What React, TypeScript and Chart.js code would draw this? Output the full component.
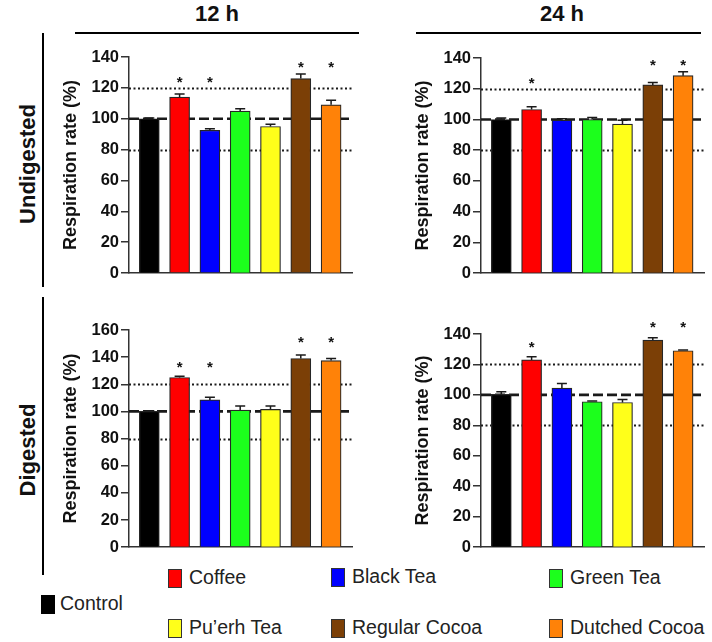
import React, { useEffect, useRef } from "react";
import { Chart, registerables } from "chart.js";
Chart.register(...registerables);

// ---------- data ----------
const categories = ["Control", "Coffee", "Black Tea", "Green Tea", "Pu’erh Tea", "Regular Cocoa", "Dutched Cocoa"];
const colors = ["#000000", "#ff0000", "#0000ff", "#1cff1c", "#ffff1a", "#7b3f06", "#ff8208"];

const undigested12h = [100, 114, 92.5, 105, 95, 126, 109];
const undigested12hErr = [0.5, 2, 1, 1.5, 1.5, 3, 3];
const undigested12hStars = [null, 126, 126, null, null, 136, 136];

const undigested24h = [100, 106.5, 99.5, 100, 97, 122.5, 128.5];
const undigested24hErr = [1, 1.7, 1, 1.2, 2.5, 1.5, 2.5];
const undigested24hStars = [null, 126, null, null, null, 138, 138];

const digested12h = [100, 125, 108.5, 101, 101.5, 139, 137.5];
const digested12hErr = [0.5, 1, 2, 3, 2.5, 2.5, 1.5];
const digested12hStars = [null, 135, 135, null, null, 154, 154];

const digested24h = [100.3, 123, 104.5, 95.5, 95, 136, 129];
const digested24hErr = [1.7, 2, 3, 0.5, 2, 1.5, 0.5];
const digested24hStars = [null, 134, null, null, null, 147, 147];

const dottedRefs = [80, 120];
const dashedRefs = [100];
const yStep = 20;

const FONT = '"Liberation Sans", Arial, Helvetica, sans-serif';

type PanelDef = {
  values: number[];
  errs: number[];
  stars: (number | null)[];
  yMax: number;
  left: number;
  top: number;
  height: number;
};

const overlay = (p: PanelDef) => ({
  id: "overlay",
  beforeDatasetsDraw(chart: any) {
    const { ctx, chartArea, scales } = chart;
    const y = scales.y;
    ctx.save();
    ctx.strokeStyle = "#1a1a1a";
    ctx.lineWidth = 2;
    ctx.setLineDash([2, 2.5]);
    dottedRefs.forEach((v) => {
      const py = Math.round(y.getPixelForValue(v)) + 0.5;
      ctx.beginPath();
      ctx.moveTo(chartArea.left, py);
      ctx.lineTo(chartArea.right, py);
      ctx.stroke();
    });
    ctx.lineWidth = 2.6;
    ctx.setLineDash([10, 4]);
    dashedRefs.forEach((v) => {
      const py = y.getPixelForValue(v);
      ctx.beginPath();
      ctx.moveTo(chartArea.left, py);
      ctx.lineTo(chartArea.right, py);
      ctx.stroke();
    });
    ctx.restore();
  },
  afterDatasetsDraw(chart: any) {
    const { ctx, scales } = chart;
    const y = scales.y;
    const meta = chart.getDatasetMeta(0);
    ctx.save();
    ctx.strokeStyle = "#1a1a1a";
    ctx.lineWidth = 1.5;
    meta.data.forEach((bar: any, i: number) => {
      const top = y.getPixelForValue(p.values[i]);
      const et = y.getPixelForValue(p.values[i] + p.errs[i]);
      ctx.beginPath();
      ctx.moveTo(bar.x, top);
      ctx.lineTo(bar.x, et);
      ctx.moveTo(bar.x - 5, et);
      ctx.lineTo(bar.x + 5, et);
      ctx.stroke();
      const s = p.stars[i];
      if (s != null) {
        ctx.fillStyle = "#111";
        ctx.font = `bold 15px ${FONT}`;
        ctx.textAlign = "center";
        ctx.textBaseline = "alphabetic";
        ctx.fillText("*", bar.x, y.getPixelForValue(s) + 15 * 0.57);
      }
    });
    ctx.restore();
  },
});

function Panel({ p }: { p: PanelDef }) {
  const ref = useRef<HTMLCanvasElement>(null);
  useEffect(() => {
    const canvas = ref.current!;
    const chart = new Chart(canvas, {
      type: "bar",
      data: {
        labels: categories,
        datasets: [
          {
            data: p.values.map((v, i) => ({ x: i + 1, y: v })) as any,
            backgroundColor: colors,
            borderColor: "#262626",
            borderWidth: 1.2,
            barThickness: 20,
          },
        ],
      },
      options: {
        responsive: false,
        animation: false,
        layout: { padding: { top: 22, right: 8, bottom: 6, left: 0 } },
        plugins: { legend: { display: false }, tooltip: { enabled: false } },
        scales: {
          x: {
            type: "linear",
            offset: false,
            min: 0.33,
            max: 7.69,
            ticks: { display: false },
            grid: { display: false, offset: false },
            border: { display: true, color: "#333", width: 1.5 },
            afterFit: (s: any) => {
              s.height = 0;
            },
          },
          y: {
            min: 0,
            max: p.yMax,
            ticks: {
              stepSize: yStep,
              font: { family: FONT, size: 16.5, weight: "bold" },
              color: "#111",
              padding: 2,
            },
            grid: {
              display: true,
              drawOnChartArea: false,
              drawTicks: true,
              tickLength: 8,
              color: "#333",
              lineWidth: 1.5,
            },
            border: { display: true, color: "#333", width: 1.5 },
            title: {
              display: true,
              text: "Respiration rate (%)",
              font: { family: FONT, size: 18, weight: "bold" },
              color: "#111",
              padding: { top: 6, bottom: 0 },
            },
            afterFit: (s: any) => {
              s.width = 75;
            },
          },
        },
      } as any,
      plugins: [overlay(p) as any],
    });
    return () => chart.destroy();
  }, []);
  return (
    <canvas
      ref={ref}
      width={306}
      height={p.height}
      style={{ position: "absolute", left: p.left, top: p.top, width: 306, height: p.height }}
    />
  );
}

const panels: PanelDef[] = [
  { values: undigested12h, errs: undigested12hErr, stars: undigested12hStars, yMax: 140, left: 54, top: 35, height: 250 },
  { values: undigested24h, errs: undigested24hErr, stars: undigested24hStars, yMax: 140, left: 406, top: 36, height: 249 },
  { values: digested12h, errs: digested12hErr, stars: digested12hStars, yMax: 160, left: 54, top: 308, height: 251 },
  { values: digested24h, errs: digested24hErr, stars: digested24hStars, yMax: 140, left: 406, top: 312, height: 247 },
];

const legendItems = [
  { idx: 1, sx: 168, ty: 578 },
  { idx: 2, sx: 331, ty: 577 },
  { idx: 3, sx: 549, ty: 578 },
  { idx: 4, sx: 168, ty: 628 },
  { idx: 5, sx: 331, ty: 628 },
  { idx: 6, sx: 549, ty: 628 },
];

const abs = (extra: React.CSSProperties): React.CSSProperties => ({ position: "absolute", ...extra });

export default function App() {
  return (
    <div
      style={{
        position: "absolute",
        left: 0,
        top: 0,
        width: 712,
        height: 642,
        background: "#fff",
        fontFamily: FONT,
        color: "#111",
        overflow: "hidden",
      }}
    >
      {panels.map((p, i) => (
        <Panel key={i} p={p} />
      ))}
      {/* column headers */}
      <div style={abs({ left: 217, top: 14, transform: "translate(-50%,-50%)", fontSize: 22, fontWeight: "bold", lineHeight: 1, whiteSpace: "nowrap" })}>12 h</div>
      <div style={abs({ left: 562, top: 14, transform: "translate(-50%,-50%)", fontSize: 22, fontWeight: "bold", lineHeight: 1, whiteSpace: "nowrap" })}>24 h</div>
      <div style={abs({ left: 75, top: 32, width: 284, height: 2, background: "#000" })} />
      <div style={abs({ left: 416, top: 32, width: 285, height: 2, background: "#000" })} />
      {/* row headers */}
      <div style={abs({ left: 42, top: 33, width: 2, height: 254, background: "#000" })} />
      <div style={abs({ left: 42, top: 297, width: 2, height: 278, background: "#000" })} />
      <div style={abs({ left: 28, top: 164, transform: "translate(-50%,-50%) rotate(-90deg)", fontSize: 22, fontWeight: "bold", lineHeight: 1, whiteSpace: "nowrap" })}>Undigested</div>
      <div style={abs({ left: 28, top: 450, transform: "translate(-50%,-50%) rotate(-90deg)", fontSize: 22, fontWeight: "bold", lineHeight: 1, whiteSpace: "nowrap" })}>Digested</div>
      {/* legend */}
      <div style={abs({ left: 41, top: 595, width: 14, height: 19, background: colors[0] })} />
      <div style={abs({ left: 60, top: 604, transform: "translateY(-50%)", fontSize: 19.5, lineHeight: 1, whiteSpace: "nowrap", color: "#222" })}>{categories[0]}</div>
      {legendItems.map((it) => (
        <React.Fragment key={it.idx}>
          <div
            style={abs({
              left: it.sx,
              top: it.ty - 9,
              width: 14,
              height: 19,
              background: colors[it.idx],
              border: "1px solid #333",
              boxSizing: "border-box",
            })}
          />
          <div style={abs({ left: it.sx + 21, top: it.ty, transform: "translateY(-50%)", fontSize: 19.5, lineHeight: 1, whiteSpace: "nowrap", color: "#222" })}>
            {categories[it.idx]}
          </div>
        </React.Fragment>
      ))}
    </div>
  );
}
